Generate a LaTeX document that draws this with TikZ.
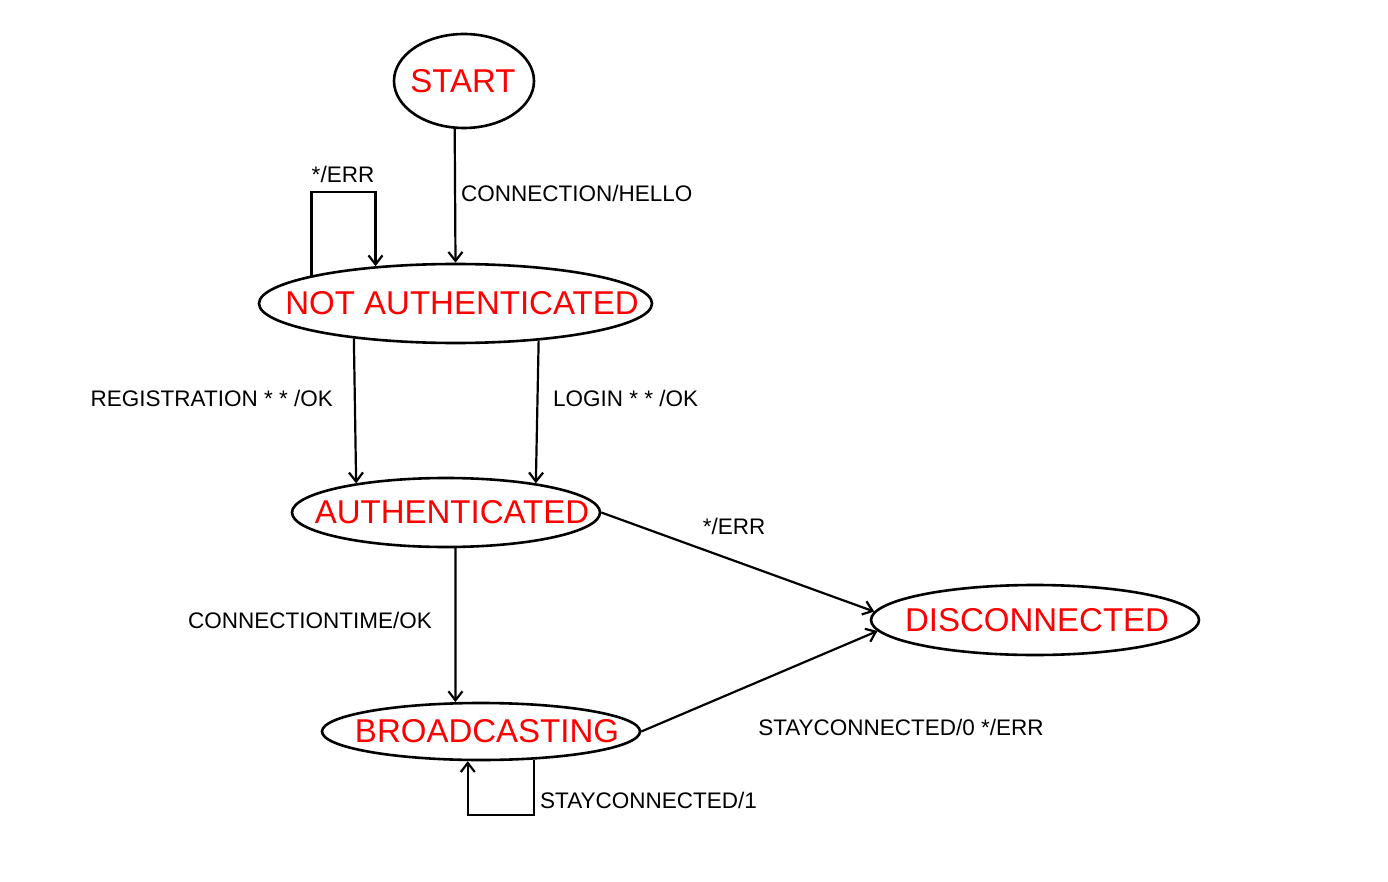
\documentclass[tikz,border=0pt]{standalone}
\usepackage{fontspec}
\setmainfont{Liberation Sans}
\usetikzlibrary{shapes.geometric,arrows.meta}
\tikzset{
  state/.style={ellipse, draw=black, line width=2.6pt, inner sep=0pt, text=red,
    font=\fontsize{33}{38}\selectfont},
  lbl/.style={inner sep=0pt, font=\fontsize{22.5}{26}\selectfont},
  arr/.style={line width=2.2pt, -{Straight Barb[length=9pt,width=14pt,line width=2.2pt]}},
}
\newcommand{\stxt}[2]{\makebox[0pt]{\hspace{#1}#2}}
\begin{document}
\begin{tikzpicture}[x=1pt,y=-1pt]
\useasboundingbox[fill=white] (0,0) rectangle (1388,882);
\node[state, minimum width=140pt, minimum height=94pt] (start) at (464,81) {\stxt{-2pt}{START}};
\node[state, minimum width=393pt, minimum height=79pt] (na) at (455.5,303.5) {\stxt{13pt}{NOT AUTHENTICATED}};
\node[state, minimum width=308pt, minimum height=69pt] (auth) at (446,512.5) {\stxt{12pt}{AUTHENTICATED}};
\node[state, minimum width=328pt, minimum height=70pt] (disc) at (1035,620) {\stxt{4pt}{DISCONNECTED}};
\node[state, minimum width=318pt, minimum height=57pt] (broad) at (481,731.5) {\stxt{12pt}{BROADCASTING}};

\coordinate (naloop) at (342,192);
\coordinate (bloop) at (500,815);

\draw[arr] (start.259.4) -- (na.north);
\draw[arr] (na.169.4) |- (naloop) -| (na.155.2);
\draw[arr] (na.199.5) -- (auth.162);
\draw[arr] (na.-24.8) -- (auth.18.8);
\draw[arr] (auth.east) -- (disc.177.2);
\draw[arr] (auth.-75.85) -- (broad.131.5);
\draw[arr] (broad.east) -- (disc.184.6);
\draw[arr] (broad.-28.5) |- (bloop) -| (broad.246.4);

\node[lbl, anchor=west] (l1) at (461,193) {CONNECTION/HELLO};
\node[lbl] (l2) at (343,174) {*/ERR};
\node[lbl, anchor=east] (l3) at (333,398) {REGISTRATION * * /OK};
\node[lbl, anchor=west] (l4) at (553,398) {LOGIN * * /OK};
\node[lbl] (l5) at (734,526) {*/ERR};
\node[lbl] (l6) at (310,620) {CONNECTIONTIME/OK};
\node[lbl] (l7) at (901,727) {STAYCONNECTED/0 */ERR};
\node[lbl, anchor=west] (l8) at (540,800) {STAYCONNECTED/1};
\end{tikzpicture}
\end{document}
